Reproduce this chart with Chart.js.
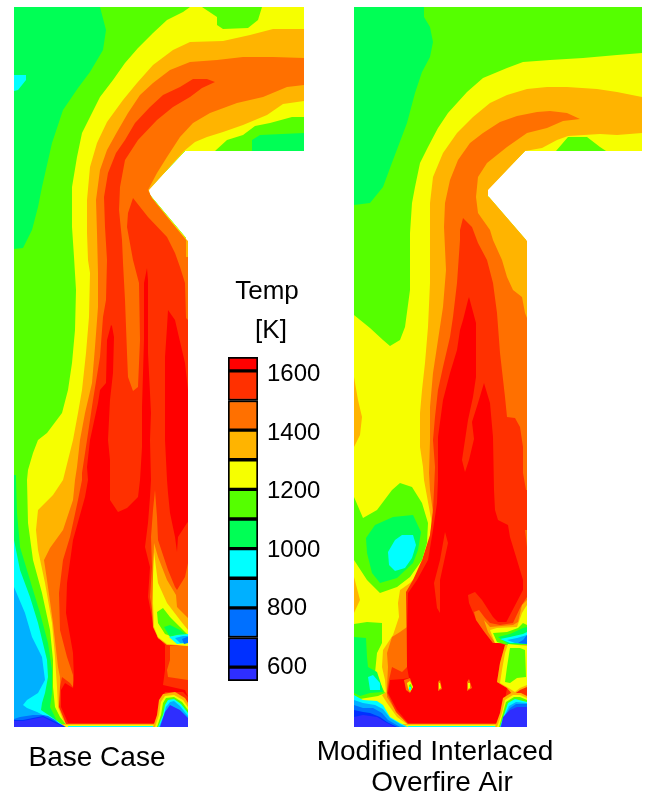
<!DOCTYPE html>
<html>
<head>
<meta charset="utf-8">
<script src="https://cdn.jsdelivr.net/npm/chart.js@4/dist/chart.umd.min.js"></script>
<style>
html,body{margin:0;padding:0;background:#fff;overflow:hidden}
#field{position:absolute;left:0;top:0}
#bar{position:absolute;left:220px;top:340px}
</style>
</head>
<body>
<canvas id="field" width="645" height="796"></canvas>
<canvas id="bar" width="110" height="360"></canvas>
<script>
// Colour bar: band limits (K), colours, tick labels
const bandLows  = [553,600,700,800,900,1000,1100,1200,1300,1400,1500,1600];
const bandHighs = [600,700,800,900,1000,1100,1200,1300,1400,1500,1600,1647];
const bandColors = ['#2e2eff','#0030ff','#0070ff','#00b0ff','#00ffff','#00ff55','#55ff00','#f6ff00','#ffb400','#ff7000','#ff3000','#ff0000'];
const tickValues = [600,800,1000,1200,1400,1600];
const captions = [['Base Case',97,758,28],['Modified Interlaced',435,752,28],['Overfire Air',442,783,28],['Temp',267,292,26],['[K]',271,331,26]];

// Base Case contour regions (x,y pairs on the picture grid)
const lBase=[14,7,304,7,304,151,185,151,148,190,150,195,186,238,188,727,14,727];
const lG1=[100,7,304,7,304,151,185,151,148,190,150,195,186,238,188,727,60,727,50,707,52,693,52,670,48,643,40,613,30,580,20,547,17,513,16,480,16,475,14,475,14,249,23,248,32,230,38,207,42,187,52,143,63,110,78,88,90,72,103,50,106,30];
const lNotchG2=[252,151,252,140,260,135,304,133,304,151];
const lSpot=[14,75,26,75,26,80,18,90,14,91];
const lY=[190,7,304,7,304,117,292,117,270,123,255,126,243,135,227,140,215,151,185,151,148,190,150,195,186,238,188,727,68,727,60,717,55,707,53,687,53,660,50,630,42,593,33,560,28,523,27,480,28,470,33,453,38,440,47,433,62,413,68,390,72,363,75,330,76,290,74,257,72,227,72,187,77,157,82,133,92,113,100,97,113,80,125,63,138,48,153,33,167,20,183,12];
const lTopG1=[202,7,217,17,217,25,223,29,248,28,258,20,262,7];
const lB=[304,29,273,29,250,35,223,41,190,42,173,50,153,65,137,83,123,100,107,122,97,143,90,167,87,200,87,233,88,260,90,273,89,317,86,353,82,390,78,413,73,440,68,460,63,480,53,495,38,510,36,530,38,550,45,583,52,623,55,657,57,687,58,707,63,720,68,727,188,727,188,241,186,239,150,196,149,190,184,151,195,142,207,137,223,132,243,125,267,115,283,104,304,101];
const lC=[304,58,273,57,243,57,217,60,190,62,170,70,153,83,140,95,128,113,117,132,107,150,100,170,96,200,97,233,98,273,98,307,95,347,92,383,85,413,80,440,77,467,75,480,73,500,63,530,50,548,44,560,47,580,53,623,58,667,60,677,60,707,68,724,188,724,188,257,186,257,186,240,172,223,152,198,148,190,157,173,167,157,180,137,193,123,210,113,237,103,263,97,287,87,304,85];
const lD=[215,82,207,79,193,79,180,87,163,95,150,107,135,123,125,140,116,153,108,173,104,197,105,227,107,260,106,300,103,317,100,357,93,400,87,440,82,473,82,480,78,500,70,537,63,560,59,593,60,630,67,657,73,675,73,687,70,683,62,677,60,687,59,707,66,724,188,724,188,320,186,318,185,283,180,267,175,253,167,237,148,217,133,198,128,213,127,227,133,260,139,283,140,340,138,387,133,391,128,377,127,353,125,300,123,263,122,240,119,210,120,187,125,160,138,140,157,120,173,107,190,97,202,88];
const lR=[111,325,107,340,106,383,100,390,98,403,90,440,87,467,88,480,85,497,73,540,67,583,66,613,73,653,74,680,73,688,65,683,61,690,61,707,68,723,157,723,161,707,163,697,165,692,183,692,188,697,185,690,163,685,165,670,165,645,158,637,153,623,148,597,150,567,145,547,148,523,150,497,151,480,150,440,151,413,148,353,148,280,147,268,144,283,144,340,142,407,142,447,140,480,138,497,127,508,118,512,110,500,110,480,110,460,108,440,110,400,113,373,114,337,112,326];
const lR2=[168,310,175,320,178,333,185,363,188,390,188,522,187,523,178,537,177,552,175,537,170,513,168,493,167,480,165,440,165,390,165,357,167,327];
const lPocketC=[155,490,157,517,158,540,168,570,175,587,177,590,185,577,188,563,188,645,167,645,158,638,154,623,150,597,152,567,151,537,153,510];
const lPocketB=[154,543,158,557,167,580,176,595,177,607,188,618,188,646,167,645,158,638,153,627,152,603,153,577];
const lPocketY=[154,552,158,583,167,603,180,620,188,630,188,646,167,644,158,637,154,627,153,603,153,577];
const lPocketG1=[157,612,163,608,170,617,180,627,188,635,188,637,173,637,165,634,158,623];
const lPocketG2=[164,627,170,625,180,630,185,634,175,635,170,637];
const lPocketCy=[169,637,177,635,188,634,188,643,177,644];
const lPocketLb=[175,638,183,636,188,636,188,643,180,643];
const lPocketBl=[182,639,187,637,188,637,188,643,184,644];
const lLowC=[170,646,170,660,167,670,168,677,188,680,188,646];
const lRimB=[60,724,157,724,155,727,63,727];
const lRimY=[64,725,157,725,157,727,64,727];
const lRimCy=[68,726,156,726,156,727,68,727];
const lBumpB=[153,727,157,715,159,700,163,694,175,692,185,698,188,703,188,727];
const lBumpY=[155,727,159,715,161,702,165,696,174,695,183,700,188,707,188,727];
const lBumpG=[157,727,161,715,163,703,166,698,174,697,182,702,188,710,188,727];
const lBumpCy=[158,727,163,715,165,705,168,700,174,699,181,704,188,713,188,727];
const lBumpLb=[159,727,164,715,166,707,170,702,174,701,180,706,188,716,188,727];
const lBumpCore=[160,727,165,712,170,705,180,710,188,718,188,727];
const lColdCy=[14,540,20,570,30,597,38,623,47,660,48,677,45,693,42,703,41,710,50,716,60,723,65,727,14,727];
const lColdLb=[14,587,25,613,32,637,42,657,45,680,38,693,27,700,23,705,27,708,37,712,43,715,52,719,60,727,14,727];
const lCold700=[14,719,20,717,33,715,43,715,48,716,55,720,63,727,14,727];
const lCold600=[14,720,23,720,43,716,50,719,58,723,66,727,14,727];
const lCold553=[14,721,23,721,43,717,53,722,64,727,14,727];

// Modified Interlaced Overfire Air contour regions
const rBase=[354,7,642,7,642,151,525,151,487,190,488,196,526,240,527,727,354,727];
const rG2=[354,7,424,7,424,17,430,27,433,42,430,57,422,72,415,93,407,123,393,160,383,187,370,203,354,205];
const rY=[642,53,617,55,583,58,550,60,523,62,507,68,483,78,467,92,448,113,438,128,428,147,420,163,415,187,412,203,410,233,410,290,405,327,400,340,390,346,383,340,370,328,354,315,354,727,527,727,526,240,488,196,487,190,525,151,642,151];
const rNotchG1=[556,151,568,137,587,137,600,147,606,151];
const rB=[642,97,617,92,597,89,567,87,547,87,527,89,507,95,490,103,473,117,457,133,443,153,433,177,430,203,430,283,428,327,425,363,422,390,420,413,420,447,423,467,424,480,430,513,433,530,428,553,422,570,410,583,403,588,400,590,398,603,399,617,393,635,383,650,382,667,385,680,386,692,382,695,387,703,397,717,408,725,408,727,527,727,527,241,489,197,488,190,525,151,542,148,557,140,568,136,600,134,617,135,642,133];
const rC=[580,119,567,113,550,111,537,112,517,116,500,122,483,133,470,143,458,160,450,180,445,203,444,227,446,270,443,307,438,340,433,373,430,407,430,440,429,473,430,490,433,513,430,537,425,557,415,577,410,590,407,627,400,632,392,637,387,653,388,667,387,687,387,697,397,713,408,724,527,724,527,318,525,313,522,297,513,290,507,277,502,260,493,240,490,230,478,213,476,197,478,177,487,163,507,147,527,133,547,128,563,121];
const rD=[463,218,460,230,460,240,457,283,453,317,450,337,443,367,438,390,435,417,433,440,435,467,434,490,433,510,430,535,422,560,413,580,406,592,407,667,402,672,392,667,389,680,387,693,396,712,408,724,527,724,527,490,526,490,523,473,523,447,520,427,515,418,507,417,505,397,500,353,497,313,493,283,487,260,478,243,472,227];
const rR=[469,297,476,323,476,377,473,397,468,420,465,440,462,460,465,472,469,460,474,439,472,422,478,403,484,383,490,403,493,437,494,490,495,510,498,520,508,525,510,537,517,560,523,580,523,590,510,615,497,640,494,642,505,645,500,663,497,682,507,688,505,700,502,713,497,723,408,723,397,710,388,693,390,680,403,679,409,678,407,667,407,630,408,593,417,580,428,560,433,530,437,503,438,480,438,437,443,400,450,373,457,350,460,330,463,320,468,300];
const rStreak=[445,532,448,543,440,580,440,613,437,608,434,583,440,560];
const rEdgeC=[525,530,527,530,527,547];
const rNubD=[404,680,410,678,413,687,410,693,406,690];
const rNubY=[407,683,410,681,413,687,410,692,408,688];
const rNubG=[409,685,411,684,412,688,410,691];
const rNubCy=[409,687,411,687,411,690,409,690];
const rSpikeC1=[438,682,440,680,442,689,438,691];
const rSpikeY1=[439,683,440,683,441,688,439,689];
const rSpikeC2=[467,682,469,679,472,688,467,691];
const rSpikeY2=[468,683,470,683,470,688,468,689];
const rPocketD=[468,595,475,592,482,600,493,617,498,622,510,622,517,613,523,600,527,590,527,643,493,643,485,633,475,617,469,603];
const rPocketC=[474,612,479,610,485,618,490,623,500,625,513,623,520,608,525,600,527,597,527,643,493,643,483,630,476,620];
const rPocketB=[484,620,490,627,513,625,518,622,522,605,527,600,527,643,495,643,488,632];
const rPocketY=[490,630,497,628,517,627,522,613,525,608,527,605,527,643,495,643];
const rPocketG1=[493,633,507,632,518,628,523,623,527,625,527,645,507,645,497,642];
const rPocketG2=[498,637,510,634,523,628,527,627,527,644,508,644];
const rPocketCy=[500,639,510,637,523,634,527,632,527,643,510,643];
const rPocketLb=[507,640,517,638,527,635,527,644,515,643];
const rPocketBl=[518,643,523,640,527,635,527,644];
const rLowB=[505,645,500,663,497,682,507,688,513,695,520,690,527,687,527,645];
const rLowY=[508,644,527,646,527,685,520,688,515,692,507,687,500,683,502,670,505,653];
const rLowG1=[510,648,520,648,525,650,526,677,517,678,510,683,505,682,507,667];
const rLobeG1=[354,497,363,518,377,510,392,490,400,483,412,487,422,503,428,523,427,543,422,560,410,577,397,587,380,593,367,580,354,560];
const rLobeG2=[366,538,375,525,393,517,413,515,421,532,418,550,413,563,397,578,380,583,372,573,367,553];
const rLobeCy=[388,552,395,540,402,535,413,535,416,545,412,558,405,568,395,571,389,565];
const rSpotB1=[354,377,358,400,362,417,360,435,354,447];
const rSpotB2=[354,577,360,600,354,613];
const rLowLeftG1=[354,624,367,622,382,623,382,643,377,653,375,673,382,687,385,693,378,696,354,700];
const rLowLeftG2=[354,637,366,638,367,657,368,667,377,672,382,687,383,692,370,693,360,696,354,693];
const rLowLeftCy=[368,677,373,675,380,683,380,690,370,690];
const rCold900=[354,695,363,700,377,701,383,705,390,717,400,723,408,727,354,727];
const rCold800=[354,700,363,703,375,705,383,709,390,718,400,724,406,727,354,727];
const rCold700=[354,705,363,708,373,708,382,713,388,720,400,727,354,727];
const rCold600=[354,710,363,712,370,713,380,717,387,722,397,727,354,727];
const rCold553=[354,717,363,715,377,717,387,723,395,727,354,727];
const rRimB=[402,724,497,724,497,727,405,727];
const rRimY=[405,725,497,725,497,727,408,727];
const rRimCy=[408,726,497,726,497,727,408,727];
const rBumpB=[495,727,500,713,503,698,511,693,521,693,527,696,527,727];
const rBumpY=[497,727,502,713,505,700,513,695,520,695,527,698,527,727];
const rBumpG=[499,727,503,713,506,702,514,697,520,697,527,700,527,727];
const rBumpCy=[500,727,504,715,508,703,515,699,527,702,527,727];
const rBumpLb=[500,727,504,717,509,706,516,702,527,703,527,727];
const rBump700=[501,727,504,717,510,708,516,704,527,704,527,727];
const rBumpCore=[501,727,503,717,510,710,517,707,527,707,527,727];

// Paint order: [region, band floor in K]
const layers = [
 [lBase,1000],[lG1,1100],[lNotchG2,1000],[lSpot,900],[lY,1200],[lTopG1,1100],[lB,1300],[lC,1400],[lD,1500],[lR,1600],[lR2,1600],
 [lPocketC,1400],[lPocketB,1300],[lPocketY,1200],[lPocketG1,1100],[lPocketG2,1000],[lPocketCy,900],[lPocketLb,800],[lPocketBl,700],[lLowC,1400],
 [lRimB,1300],[lRimY,1200],[lRimCy,900],
 [lBumpB,1300],[lBumpY,1200],[lBumpG,1100],[lBumpCy,900],[lBumpLb,800],[lBumpCore,553],
 [lColdCy,900],[lColdLb,800],[lCold700,700],[lCold600,600],[lCold553,553],
 [rBase,1100],[rG2,1000],[rY,1200],[rNotchG1,1100],[rB,1300],[rC,1400],[rD,1500],[rR,1600],[rStreak,1500],[rEdgeC,1400],
 [rNubD,1400],[rNubY,1200],[rNubG,1100],[rNubCy,900],[rSpikeC1,1400],[rSpikeY1,1200],[rSpikeC2,1400],[rSpikeY2,1200],
 [rPocketD,1500],[rPocketC,1400],[rPocketB,1300],[rPocketY,1200],[rPocketG1,1100],[rPocketG2,1000],[rPocketCy,900],[rPocketLb,800],[rPocketBl,700],
 [rLowB,1300],[rLowY,1200],[rLowG1,1100],
 [rLobeG1,1100],[rLobeG2,1000],[rLobeCy,900],[rSpotB1,1300],[rSpotB2,1300],[rLowLeftG1,1100],[rLowLeftG2,1000],[rLowLeftCy,900],
 [rRimB,1300],[rRimY,1200],[rRimCy,900],
 [rBumpB,1300],[rBumpY,1200],[rBumpG,1100],[rBumpCy,900],[rBumpLb,800],[rBump700,700],[rBumpCore,553],
 [rCold900,900],[rCold800,800],[rCold700,700],[rCold600,600],[rCold553,553]
];

function toPoints(flat){
  const out=[];
  for(let i=0;i<flat.length;i+=2) out.push({x:flat[i],y:flat[i+1]});
  return out;
}
const captionPlugin={
  id:'captions',
  afterDraw(chart){
    const c=chart.ctx;
    c.save();
    c.fillStyle='#000';
    c.textAlign='center';
    c.textBaseline='middle';
    captions.forEach(t=>{
      c.font=t[3]+'px "Liberation Sans", Arial, sans-serif';
      c.fillText(t[0],t[1],t[2]);
    });
    c.restore();
  }
};
new Chart(document.getElementById('field'),{
  type:'scatter',
  data:{datasets:layers.map((l,i)=>{
    const col=bandColors[bandLows.indexOf(l[1])];
    return {data:toPoints(l[0]),showLine:true,fill:'shape',backgroundColor:col,borderColor:col,borderWidth:0,pointRadius:0,pointHoverRadius:0,tension:0,order:layers.length-i};
  })},
  options:{
    responsive:false,animation:false,events:[],
    layout:{padding:0},
    plugins:{legend:{display:false},tooltip:{enabled:false}},
    scales:{
      x:{type:'linear',min:0,max:645,display:false},
      y:{type:'linear',min:0,max:796,reverse:true,display:false}
    }
  },
  plugins:[captionPlugin]
});
new Chart(document.getElementById('bar'),{
  type:'bar',
  data:{labels:['Temp'],datasets:bandLows.map((lo,i)=>({
    yAxisID:'yBars',data:[[lo,bandHighs[i]]],grouped:false,backgroundColor:bandColors[i],borderColor:'#000',borderWidth:2,borderSkipped:false,barPercentage:1,categoryPercentage:1
  }))},
  options:{
    responsive:false,animation:false,events:[],
    layout:{padding:{left:8,top:17,bottom:19,right:0}},
    plugins:{legend:{display:false},tooltip:{enabled:false}},
    scales:{
      x:{display:false},
      yBars:{display:false,min:553,max:1647},
      y:{position:'right',min:552,max:1661,
        afterBuildTicks(s){s.ticks=tickValues.map(v=>({value:v}));},
        afterFit(s){s.width=72;s.paddingTop=0;s.paddingBottom=0;},
        grid:{display:false,drawTicks:false},border:{display:false},
        ticks:{color:'#000',padding:9,font:{size:24,family:'"Liberation Sans", Arial, sans-serif'},callback:v=>String(v)}
      }
    }
  }
});
</script>
</body>
</html>
